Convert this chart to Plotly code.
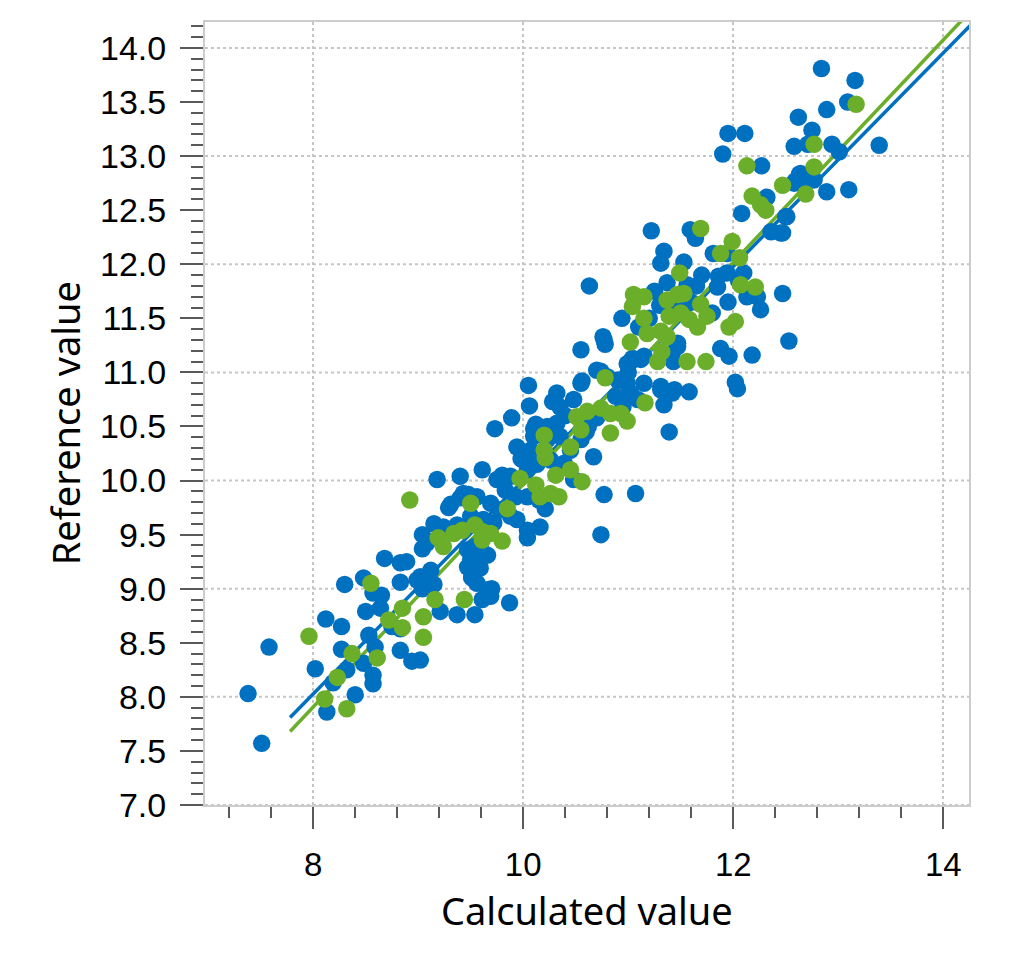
import plotly.graph_objects as go

# ---------------- data ----------------
BLUE_X = [7.38, 7.51, 7.58, 8.12, 8.27, 8.02, 8.30, 8.48, 8.68, 8.83, 8.89, 8.83, 9.02, 9.12, 9.04, 9.15,
          8.57, 8.65, 8.50, 8.64, 8.27, 8.53, 8.59, 8.48, 8.57, 8.57, 8.40, 8.13, 8.19, 8.32, 8.83, 8.94,
          9.02, 8.83, 8.75, 9.21, 9.37, 9.54, 9.61, 9.70, 9.50, 9.59, 9.66, 9.51, 8.99, 9.87,
          9.18, 9.40, 9.29, 9.40, 9.48, 9.15, 9.21, 9.04, 9.04, 9.24, 9.37, 9.08, 9.50, 9.62, 9.72, 9.61,
          9.75, 9.88, 9.83, 9.93, 10.04, 10.15, 10.21, 9.56, 9.69, 9.78, 9.43, 9.31, 10.77, 11.07, 10.74,
          9.88, 9.94, 10.04, 10.16, 10.04, 9.47, 9.54, 9.62, 9.47, 9.51, 9.56, 9.66, 9.69,
          10.12, 10.23, 10.32, 10.35, 10.23, 10.10, 9.94, 10.07, 10.00, 10.16, 10.26, 10.39, 10.45, 10.67,
          10.04, 10.13, 10.48, 9.73, 9.89, 10.10, 10.23, 10.05, 10.06, 10.28, 10.35, 10.48, 10.32, 10.55,
          10.70, 10.90, 10.99, 11.15, 11.31, 11.42, 11.58, 11.34, 11.02, 11.09, 11.39, 10.74, 10.56, 10.63,
          10.76, 10.78, 10.55, 11.02, 11.12, 11.47, 11.43, 10.80, 10.93, 11.04, 10.99, 11.15, 11.42, 11.47,
          11.88, 11.96, 12.18, 12.02, 12.04, 11.31, 11.44, 10.94, 10.77, 12.53,
          11.22, 11.59, 11.64, 11.34, 11.31, 11.53, 11.81, 11.94, 11.70, 11.86, 11.94, 12.10, 11.37, 11.56,
          11.85, 12.47, 12.13, 12.23, 12.26, 11.95, 12.11, 11.90, 12.27, 12.63, 12.58, 12.67, 12.77, 12.32,
          12.08, 12.50, 12.36, 12.45, 12.84, 13.16, 13.09, 12.89, 12.62, 12.75, 12.58, 12.71, 12.94, 13.01,
          13.39, 12.64, 12.59, 12.89, 13.10, 12.51, 12.47,
          10.55, 10.62, 10.70, 10.88, 10.95, 11.00, 11.20, 11.30, 11.10, 11.25, 11.45, 11.60, 11.80, 11.65,
          11.95, 12.05, 9.98, 9.80, 10.40, 10.60]
BLUE_Y = [8.03, 7.57, 8.46, 8.72, 8.65, 8.26, 9.04, 9.10, 9.28, 9.24, 9.25, 9.06, 9.11, 9.17, 9.00, 9.04,
          8.96, 8.94, 8.79, 8.82, 8.44, 8.57, 8.46, 8.31, 8.20, 8.12, 8.02, 7.86, 8.13, 8.25, 8.43, 8.33,
          8.34, 8.63, 8.65, 8.79, 8.76, 8.76, 8.90, 9.00, 9.27, 9.19, 9.31, 9.10, 9.08, 8.87,
          10.01, 10.04, 9.75, 9.84, 9.87, 9.60, 9.56, 9.50, 9.37, 9.57, 9.59, 9.42, 9.67, 9.64, 9.61, 10.10,
          10.01, 10.04, 9.91, 9.85, 9.85, 9.82, 9.74, 9.85, 9.79, 9.73, 9.88, 9.78, 9.87, 9.88, 9.50,
          9.67, 9.64, 9.54, 9.57, 9.47, 9.36, 9.39, 9.33, 9.20, 9.11, 9.05, 8.99, 8.93,
          10.52, 10.49, 10.53, 10.41, 10.38, 10.41, 10.31, 10.28, 10.19, 10.22, 10.19, 10.16, 10.28, 10.22,
          10.10, 10.15, 10.01, 10.48, 10.58, 10.48, 10.50, 10.88, 10.69, 10.73, 10.68, 10.75, 10.81, 10.90,
          11.02, 10.93, 10.90, 10.90, 10.84, 10.81, 10.82, 10.70, 10.81, 10.75, 10.45, 11.01, 10.92, 11.80,
          11.33, 11.26, 11.21, 11.10, 11.12, 11.27, 11.10, 10.96, 10.93, 11.13, 11.08, 11.15, 11.18, 11.24,
          11.22, 11.15, 11.16, 10.91, 10.85, 10.87, 10.84, 11.50, 11.30, 11.29,
          12.31, 12.32, 12.24, 12.12, 12.01, 12.02, 12.10, 12.10, 11.90, 11.89, 11.92, 11.92, 11.83, 11.81,
          11.79, 11.73, 11.70, 11.70, 11.58, 13.21, 13.21, 13.02, 12.91, 12.83, 12.75, 12.76, 12.78, 12.62,
          12.47, 12.44, 12.30, 12.29, 13.81, 13.70, 13.50, 13.43, 13.36, 13.24, 13.09, 13.11, 13.11, 13.04,
          13.10, 12.84, 12.77, 12.67, 12.69, 12.44, 12.29,
          10.38, 10.50, 10.58, 10.78, 10.68, 11.00, 11.50, 11.62, 11.42, 11.75, 11.60, 11.65, 11.55, 11.80,
          11.65, 11.85, 10.20, 10.05, 10.60, 10.45]

GREEN_X = [7.96, 8.37, 8.61, 8.23, 8.11, 8.32, 8.55, 8.72, 8.85, 8.85, 9.05, 9.05, 9.16, 9.44, 8.92,
           9.50, 9.85, 9.19, 9.24, 9.34, 9.42, 9.54, 9.61, 9.69, 9.61, 9.80, 9.97, 10.12, 10.16, 10.26,
           10.34, 10.20, 10.20, 10.21, 10.45, 10.31, 10.45, 10.56, 10.51, 10.61, 10.74, 10.83, 10.93, 10.99,
           10.55, 10.83, 10.78, 11.16, 11.05, 11.15, 11.04, 11.37, 11.47, 11.53, 11.49, 11.15, 11.39, 11.50,
           11.58, 11.69, 11.75, 11.66, 11.18, 11.31, 11.37, 11.02, 11.32, 11.28, 11.56, 11.74, 11.96, 12.02,
           12.07, 12.21, 11.69, 11.99, 11.88, 12.06, 12.18, 12.26, 12.31, 12.13, 12.47, 12.69, 12.77, 12.77,
           13.17]
GREEN_Y = [8.56, 8.40, 8.36, 8.18, 7.98, 7.89, 9.05, 8.71, 8.82, 8.64, 8.74, 8.55, 8.90, 8.90, 9.82,
           9.79, 9.74, 9.47, 9.39, 9.51, 9.54, 9.59, 9.53, 9.51, 9.45, 9.44, 10.02, 9.96, 9.85, 9.88,
           9.85, 10.42, 10.28, 10.21, 10.31, 10.05, 10.10, 9.99, 10.59, 10.64, 10.67, 10.62, 10.62, 10.55,
           10.47, 10.44, 10.95, 10.72, 11.72, 11.70, 11.61, 11.67, 11.72, 11.73, 11.92, 11.50, 11.52, 11.55,
           11.49, 11.63, 11.52, 11.42, 11.36, 11.38, 11.33, 11.28, 11.19, 11.10, 11.10, 11.10, 11.42, 11.47,
           11.81, 11.79, 12.33, 12.21, 12.10, 12.06, 12.63, 12.55, 12.50, 12.91, 12.73, 12.65, 12.90, 13.11,
           13.48]

# regression lines (slope, intercept), drawn over this x span
BLUE_FIT = (0.988, 0.123)
GREEN_FIT = (1.028, -0.318)
FIT_SPAN = [7.78, 14.30]

X_TICKS = [8, 10, 12, 14]
Y_TICKS = [7.0, 7.5, 8.0, 8.5, 9.0, 9.5, 10.0, 10.5, 11.0, 11.5, 12.0, 12.5, 13.0, 13.5, 14.0]
Y_GRID = [7, 8, 9, 10, 11, 12, 13, 14]
X_RANGE = [6.97, 14.245]
Y_RANGE = [7.0, 14.24]

BLUE = "#0070C0"
GREEN = "#6BAE2A"
GRID = "#c6c6c6"
TICKC = "#5a5a5a"

fig = go.Figure()

for (m, b), col in ((BLUE_FIT, BLUE), (GREEN_FIT, GREEN)):
    fig.add_trace(go.Scatter(x=FIT_SPAN, y=[m * v + b for v in FIT_SPAN], mode="lines",
                             line=dict(color=col, width=3.5), hoverinfo="skip", showlegend=False))

fig.add_trace(go.Scatter(x=BLUE_X, y=BLUE_Y, mode="markers",
                         marker=dict(color=BLUE, size=17.5, line=dict(width=0)), showlegend=False))
fig.add_trace(go.Scatter(x=GREEN_X, y=GREEN_Y, mode="markers",
                         marker=dict(color=GREEN, size=17.5, line=dict(width=0)), showlegend=False))

for gy in Y_GRID:
    fig.add_shape(type="line", xref="paper", x0=0, x1=1, yref="y", y0=gy, y1=gy,
                  line=dict(color=GRID, width=2, dash="dot"), layer="below")

xtickfont = dict(family="Liberation Sans, Arial, sans-serif", size=33, color="black")
ytickfont = dict(family="Liberation Sans, Arial, sans-serif", size=34, color="black")
titlefont = dict(family="Noto Sans, Open Sans, sans-serif", size=38, color="black")

fig.update_layout(
    width=1024, height=961,
    margin=dict(l=205, r=55, t=22, b=156),
    paper_bgcolor="white", plot_bgcolor="white",
    xaxis=dict(range=X_RANGE, tickvals=X_TICKS, ticktext=[str(v) for v in X_TICKS],
               ticks="outside", ticklen=22, tickwidth=2, tickcolor=TICKC,
               showgrid=True, gridcolor=GRID, gridwidth=2, griddash="dot",
               showline=True, linecolor="#cccccc", linewidth=2, mirror=True, zeroline=False,
               tickfont=xtickfont, ticklabelstandoff=7,
               minor=dict(dtick=0.4, ticklen=11, tickwidth=2, tickcolor=TICKC, ticks="outside", showgrid=False)),
    yaxis=dict(range=Y_RANGE, tickvals=Y_TICKS, ticktext=[f"{v:.1f}" for v in Y_TICKS],
               ticks="outside", ticklen=23, tickwidth=2, tickcolor=TICKC,
               showgrid=False, showline=True, linecolor="#cccccc", linewidth=2, mirror=True, zeroline=False,
               tickfont=ytickfont, ticklabelstandoff=7,
               minor=dict(dtick=0.1, ticklen=12, tickwidth=2, tickcolor=TICKC, ticks="outside", showgrid=False)),
    annotations=[
        dict(text="Calculated value", xref="paper", yref="paper", x=0.5, y=-0.134,
             xanchor="center", yanchor="middle", showarrow=False, font=titlefont),
        dict(text="Reference value", xref="paper", yref="paper", x=-0.184, y=0.488, textangle=-90,
             xanchor="center", yanchor="middle", showarrow=False, font=titlefont),
    ],
)

fig.write_html("out.html")
